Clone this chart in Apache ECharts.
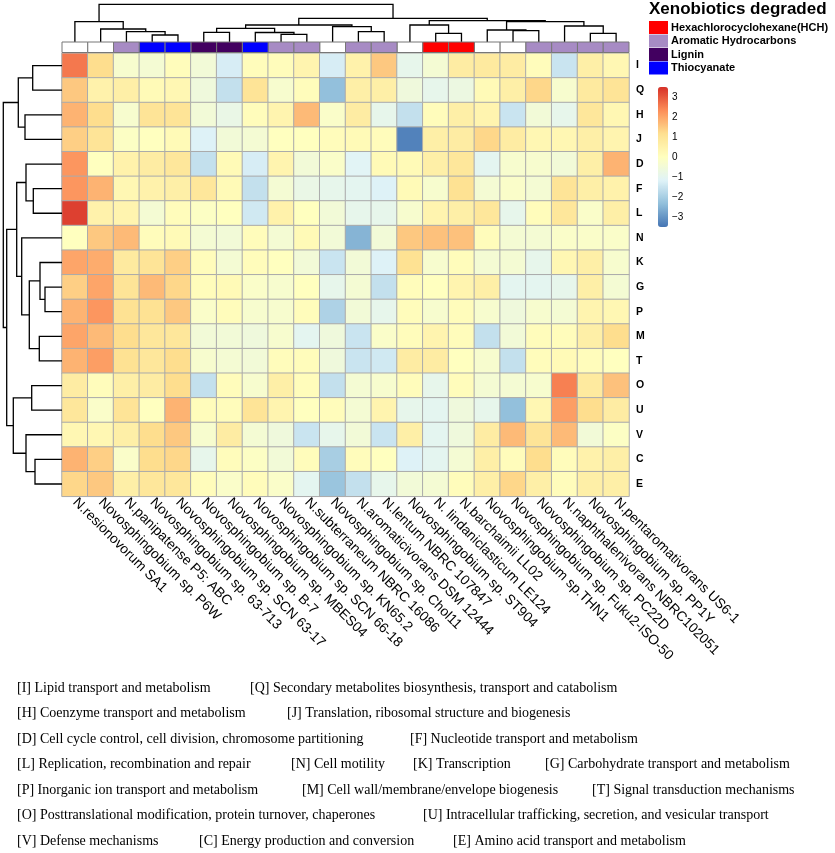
<!DOCTYPE html>
<html>
<head>
<meta charset="utf-8">
<title>COG heatmap - Novosphingobium</title>
<script src="https://cdn.jsdelivr.net/npm/echarts@6/dist/echarts.min.js"></script>
<style>
html, body { margin: 0; padding: 0; background: #fff; }
#main { width: 835px; height: 853px; }
</style>
</head>
<body>
<div id="main"></div>
<script>
// genomes (columns), in dendrogram order
var colLabels = [
	'N.resionovorum SA1', 'Novosphingobium sp. P6W', 'N.panipatense P5: ABC',
	'Novosphingobium sp. 63-713', 'Novosphingobium sp. SCN 63-17', 'Novosphingobium sp. B-7',
	'Novosphingobium sp. MBES04', 'Novosphingobium sp. SCN 66-18', 'Novosphingobium sp. KN65.2',
	'N.subterraneum NBRC 16086', 'Novosphingobium sp. Chol11', 'N.aromaticivorans DSM 12444',
	'N.lentum NBRC 107847', 'Novosphingobium sp. ST904', 'N. lindaniclasticum LE124',
	'N.barchaimii LL02', 'Novosphingobium sp.THN1', 'Novosphingobium sp. Fuku2-ISO-50',
	'Novosphingobium sp. PC22D', 'N.naphthalenivorans NBRC102051', 'Novosphingobium sp. PP1Y',
	'N.pentaromativorans US6-1'
];
// COG categories (rows), top to bottom
var rowLabels = ['I', 'Q', 'H', 'J', 'D', 'F', 'L', 'N', 'K', 'G', 'P', 'M', 'T', 'O', 'U', 'V', 'C', 'E'];

// scaled values per COG row (one value per genome)
var valI = [2.6, 1.2, -0.3, -0.4, 0.1, -0.5, -1.3, 0.1, 0.1, 0.4, -1.3, 0.5, 1.5, -0.9, -0.4, 0.7, 0.8, 0.7, 0.1, -1.5, 0.6, 0.3];
var valQ = [1.5, 0.5, 0.6, 0.2, 0.3, -0.6, -1.6, 1.0, -0.3, 0.1, -2.3, 0.6, 0.6, -0.6, -0.9, -0.7, 0.2, 0.6, 1.3, -0.3, 0.8, 1.0];
var valH = [1.8, 1.2, -0.3, 1.0, 1.0, -0.5, -0.8, 0.1, 0.4, 1.7, -0.2, 0.7, -0.9, -1.6, 0.1, 0.6, 0.4, -1.5, -0.5, -0.9, 0.9, 0.3];
var valJ = [1.4, 1.0, -0.1, 0.0, 0.2, -1.2, -0.5, -0.4, 0.0, 0.0, 0.1, 0.2, 0.1, -3.3, 0.6, 0.7, 1.3, 0.7, 0.3, 0.3, 0.6, 0.4];
var valD = [2.2, 0.0, 0.5, 0.7, 0.9, -1.6, 0.2, -1.3, 0.4, -0.5, -0.2, -1.1, 0.2, 0.2, 0.6, 0.9, -1.0, -0.3, -0.3, -0.5, 0.6, 1.8];
var valF = [2.2, 1.8, 0.3, 0.5, 0.6, 0.9, 0.2, -1.6, -0.4, -0.8, -0.9, -1.0, -1.2, 0.2, -0.3, 1.1, -0.4, -0.2, -0.4, 1.0, 0.6, 0.5];
var valL = [3.3, 0.5, 0.4, -0.4, 0.1, -0.1, 0.0, -1.4, 0.5, 0.0, -0.5, -0.9, -0.9, -0.3, 0.4, 0.6, 0.9, -0.9, 0.1, 0.9, -0.2, 0.6];
var valN = [0.0, 1.5, 1.7, 0.1, 0.2, -0.4, -0.5, 0.1, -0.4, 0.2, -0.5, -2.5, -0.5, 1.5, 1.6, 1.6, 0.1, -0.4, -0.4, -0.2, -0.2, -0.2];
var valK = [2.0, 1.9, 0.8, 1.0, 1.4, 0.1, -0.4, 0.1, 0.0, -0.5, -1.5, -0.5, -1.2, 1.1, -0.3, 0.1, -0.4, -0.4, -0.9, 0.3, 0.6, -0.3];
var valG = [1.4, 2.0, 1.0, 1.7, 1.3, 0.1, 0.2, -0.2, -0.3, 0.0, -0.9, -0.4, -1.6, 0.1, 0.0, 0.4, 0.6, -1.0, -1.0, -0.9, 0.6, -0.4];
var valP = [1.8, 2.2, 1.1, 1.1, 1.5, -0.2, 0.1, -0.3, -0.3, 0.1, -1.9, -0.5, -0.9, 0.1, -0.3, 0.1, -0.3, -0.6, -0.3, -0.4, 0.4, 0.3];
var valM = [2.0, 1.7, 1.2, 0.9, 0.9, -0.5, -0.5, -0.6, -0.3, -1.0, -0.6, -1.5, -0.2, 0.1, 0.4, 0.1, -1.6, -0.5, 0.1, 0.1, 0.6, 1.2];
var valT = [1.8, 2.1, 1.1, 0.9, 1.2, -0.3, -0.4, -0.5, 0.1, 0.1, -0.6, -1.5, -1.4, 0.7, 0.7, 0.0, -0.3, -1.6, 0.1, 0.2, 0.1, 0.0];
var valO = [0.7, 0.1, 0.6, 0.7, 1.2, -1.6, 0.1, -0.3, 0.6, 0.1, -1.6, -0.4, -0.3, 0.1, -0.9, 0.1, -0.4, -0.4, -0.3, 2.5, 0.8, 1.6];
var valU = [0.9, -0.2, 1.0, 0.0, 1.8, 0.1, 0.1, 1.0, 0.4, 0.0, 0.1, -0.4, 0.4, -0.9, -1.0, -0.6, -0.9, -2.3, 0.3, 2.1, 1.2, 0.7];
var valV = [0.3, 0.3, 0.6, 1.2, 1.5, -0.3, 0.7, -0.4, -0.6, -1.5, -0.9, -0.5, -1.5, 0.6, -1.0, -0.6, 0.7, 1.7, 1.0, 1.7, -0.5, -0.1];
var valC = [1.8, 1.4, -0.2, 1.2, 1.3, -0.9, 0.1, -0.1, -0.5, 0.1, -2.0, 0.1, 0.0, -1.2, -1.0, -0.4, 0.6, 0.1, 1.2, 0.1, 0.5, 0.6];
var valE = [1.3, 1.5, 0.6, 0.9, 0.9, 0.1, -0.2, 0.1, -0.2, -1.0, -2.2, -1.6, -0.9, -0.5, -0.4, 0.1, 0.6, 1.3, 0.6, 0.1, 0.6, 0.6];
var rowValues = [valI, valQ, valH, valJ, valD, valF, valL, valN, valK, valG, valP, valM, valT, valO, valU, valV, valC, valE];

// xenobiotics annotation: group index per genome (-1 = none)
var xenoGroups = ['Hexachlorocyclohexane(HCH)', 'Aromatic Hydrocarbons', 'Lignin', 'Thiocyanate'];
var xenoColors = ['#ff0000', '#a78bc4', '#420060', '#0000ff'];
var colXeno = [-1, -1, 1, 3, 3, 2, 2, 3, 1, 1, -1, 1, 1, -1, 0, 0, -1, -1, 1, 1, 1, 1];

// hclust style merges: [a, b, height], negative = leaf (-1 is first leaf), positive = earlier merge
var colMerges = [
	[-4, -5, 7.0], [-3, 1, 10.3], [-2, 2, 13.0], [-1, 3, 20.3],
	[-6, -7, 9.7], [-9, -10, 7.7], [-8, 6, 9.5], [5, 7, 13.7],
	[-12, -13, 10.3], [-11, 9, 15.3], [8, 10, 17.0],
	[-15, -16, 8.7], [-14, 12, 17.0], [-18, -19, 11.3], [-17, 14, 12.0],
	[-21, -22, 8.7], [-20, 16, 16.0], [15, 17, 20.3], [13, 18, 21.3],
	[11, 19, 23.7], [4, 20, 37.7]
];
var rowMerges = [
	[-1, -2, 29.3], [-3, -4, 37.0], [1, 2, 43.7],
	[-6, -7, 28.7], [-5, 4, 36.0],
	[-12, -13, 22.7], [-10, -11, 17.0], [-9, 7, 22.0], [8, 6, 32.7],
	[-8, 9, 40.3], [5, 10, 45.3],
	[-14, -15, 30.3], [-17, -18, 27.0], [-16, 13, 36.0], [12, 14, 48.7],
	[11, 15, 55.3], [3, 16, 58.7]
];

// COG legend lines under the chart
var cogLines = [
	['[I] Lipid transport and metabolism', '[Q] Secondary metabolites biosynthesis, transport and catabolism'],
	['[H] Coenzyme transport and metabolism', '[J] Translation, ribosomal structure and biogenesis'],
	['[D] Cell cycle control, cell division, chromosome partitioning', '[F] Nucleotide transport and metabolism'],
	['[L] Replication, recombination and repair', '[N] Cell motility', '[K] Transcription', '[G] Carbohydrate transport and metabolism'],
	['[P] Inorganic ion transport and metabolism', '[M] Cell wall/membrane/envelope biogenesis', '[T] Signal transduction mechanisms'],
	['[O] Posttranslational modification, protein turnover, chaperones', '[U] Intracellular trafficking, secretion, and vesicular transport'],
	['[V] Defense mechanisms', '[C] Energy production and conversion', '[E] Amino acid transport and metabolism']
];

// ---- layout ----
var HM_LEFT = 62, HM_TOP = 53.3, HM_W = 567, HM_H = 443;
var cogLineX = [[17, 250], [17, 287], [17, 410], [17, 291, 413, 545], [17, 302, 592], [17, 423], [17, 199, 453]];
var COG_Y0 = 688, COG_DY = 25.5;
var SANS = "Arial, 'Liberation Sans', sans-serif";
var SERIF = "'Times New Roman', 'Liberation Serif', serif";

function initHeatmap(){
	var chart = echarts.init(document.getElementById('main'));

	var hmData = [];
	rowValues.forEach(function(vals, r){
		vals.forEach(function(v, c){
			hmData.push([c, r, v]);
		});
	});

	// turn merges into U shaped segments: [posA, posB, h, hA, hB]
	function treeSegments(merges){
		var pos = [], hgt = [], segs = [];
		function info(c){
			return c < 0 ? [-c - 1 + 0.5, 0] : [pos[c - 1], hgt[c - 1]];
		}
		merges.forEach(function(m, k){
			var a = info(m[0]), b = info(m[1]);
			pos[k] = (a[0] + b[0]) / 2;
			hgt[k] = m[2];
			segs.push([a[0], b[0], m[2], a[1], b[1]]);
		});
		return segs;
	}
	var colSegs = treeSegments(colMerges);
	var rowSegs = treeSegments(rowMerges);
	var colTop = Math.max.apply(null, colMerges.map(function(m){ return m[2]; }));
	var rowTop = Math.max.apply(null, rowMerges.map(function(m){ return m[2]; }));

	var lineStyle = { stroke: '#000', fill: null, lineWidth: 1.3 };

	function annoSeries(name, color, gi){
		var d = [];
		colXeno.forEach(function(g, i){ if(g === gi) d.push([i, 0]); });
		return {
			name: name,
			type: 'custom',
			xAxisIndex: 1,
			yAxisIndex: 1,
			itemStyle: { color: color },
			data: d,
			renderItem: function(params, api){
				var p = api.coord([api.value(0), 1]);
				var s = api.size([1, 1]);
				return {
					type: 'rect',
					shape: { x: p[0] - s[0] / 2, y: p[1], width: s[0], height: s[1] },
					style: { fill: color, stroke: '#777', lineWidth: 1 }
				};
			}
		};
	}

	var series = [
		{
			type: 'heatmap',
			xAxisIndex: 0,
			yAxisIndex: 0,
			data: hmData,
			itemStyle: { borderColor: '#ababab', borderWidth: 1 },
			emphasis: { disabled: true },
			progressive: 0
		},
		{
			type: 'custom',
			xAxisIndex: 2,
			yAxisIndex: 2,
			data: colSegs,
			silent: true,
			renderItem: function(params, api){
				var a = api.value(0), b = api.value(1), h = api.value(2);
				return {
					type: 'polyline',
					shape: { points: [
						api.coord([a, api.value(3)]), api.coord([a, h]),
						api.coord([b, h]), api.coord([b, api.value(4)])
					] },
					style: lineStyle
				};
			}
		},
		{
			type: 'custom',
			xAxisIndex: 3,
			yAxisIndex: 3,
			data: rowSegs,
			silent: true,
			renderItem: function(params, api){
				var a = api.value(0), b = api.value(1), h = api.value(2);
				return {
					type: 'polyline',
					shape: { points: [
						api.coord([api.value(3), a]), api.coord([h, a]),
						api.coord([h, b]), api.coord([api.value(4), b])
					] },
					style: lineStyle
				};
			}
		},
		annoSeries('none', '#ffffff', -1)
	];
	xenoGroups.forEach(function(g, i){
		series.push(annoSeries(g, xenoColors[i], i));
	});

	var graphics = [];
	cogLines.forEach(function(line, i){
		line.forEach(function(txt, j){
			graphics.push({
				type: 'text',
				left: cogLineX[i][j],
				top: COG_Y0 + i * COG_DY - 7,
				style: { text: txt, fontFamily: SERIF, fontSize: 14, fill: '#000' }
			});
		});
	});

	var option = {
		backgroundColor: '#fff',
		animation: false,
		title: {
			text: 'Xenobiotics degraded',
			left: 649,
			top: 1,
			padding: 0,
			textStyle: { fontFamily: SANS, fontSize: 17, fontWeight: 'bold', color: '#000' }
		},
		legend: {
			data: xenoGroups,
			orient: 'vertical',
			left: 649,
			top: 21,
			padding: 0,
			itemWidth: 19,
			itemHeight: 13,
			itemGap: 0.5,
			icon: 'rect',
			selectedMode: false,
			textStyle: { fontFamily: SANS, fontSize: 11, fontWeight: 'bold', color: '#000', padding: [0, 0, 0, -2] }
		},
		grid: [
			{ left: HM_LEFT, top: HM_TOP, width: HM_W, height: HM_H, outerBoundsMode: 'none' },
			{ left: HM_LEFT, top: 42, width: HM_W, height: 10.5, outerBoundsMode: 'none' },
			{ left: HM_LEFT, top: 4.3, width: HM_W, height: 37.7, outerBoundsMode: 'none' },
			{ left: 3.3, top: HM_TOP, width: HM_LEFT - 3.3, height: HM_H, outerBoundsMode: 'none' },
			{ left: 658, top: 87, width: 10, height: 140, outerBoundsMode: 'none' }
		],
		xAxis: [
			{
				type: 'category', gridIndex: 0, data: colLabels, position: 'bottom',
				axisLine: { show: false }, axisTick: { show: false }, splitLine: { show: false },
				axisLabel: { interval: 0, rotate: -45, margin: 4, fontFamily: SANS, fontSize: 13.8, color: '#000' }
			},
			{ type: 'category', gridIndex: 1, data: colLabels, show: false },
			{ type: 'value', gridIndex: 2, min: 0, max: colLabels.length, show: false },
			{ type: 'value', gridIndex: 3, min: 0, max: rowTop, inverse: true, show: false },
			{ type: 'value', gridIndex: 4, min: 0, max: 1, show: false }
		],
		yAxis: [
			{
				type: 'category', gridIndex: 0, data: rowLabels, inverse: true, position: 'right',
				axisLine: { show: false }, axisTick: { show: false }, splitLine: { show: false },
				axisLabel: { margin: 7, fontFamily: SANS, fontSize: 10.5, fontWeight: 'bold', color: '#000' }
			},
			{ type: 'value', gridIndex: 1, min: 0, max: 1, show: false },
			{ type: 'value', gridIndex: 2, min: 0, max: colTop, show: false },
			{ type: 'value', gridIndex: 3, min: 0, max: rowLabels.length, inverse: true, show: false },
			{
				type: 'value', gridIndex: 4, min: -3.5, max: 3.5, interval: 0.5, position: 'right',
				axisLine: { show: false }, axisTick: { show: false }, splitLine: { show: false },
				axisLabel: {
					margin: 4, fontFamily: SANS, fontSize: 10, color: '#000',
					formatter: function(v){
						if(Math.abs(v - Math.round(v)) > 1e-6) return '';
						return String(Math.round(v)).replace('-', '\u2212');
					}
				}
			}
		],
		visualMap: {
			type: 'continuous',
			seriesIndex: 0,
			min: -3.5,
			max: 3.5,
			calculable: false,
			hoverLink: false,
			orient: 'vertical',
			left: 658,
			top: 87,
			padding: 0,
			itemWidth: 10,
			itemHeight: 140,
			inRange: {
				color: ['#4575b4', '#91bfdb', '#e0f3f8', '#ffffbf', '#fee090', '#fc8d59', '#d73027']
			}
		},
		graphic: graphics,
		series: series
	};

	chart.setOption(option);
}

initHeatmap();
</script>
</body>
</html>
